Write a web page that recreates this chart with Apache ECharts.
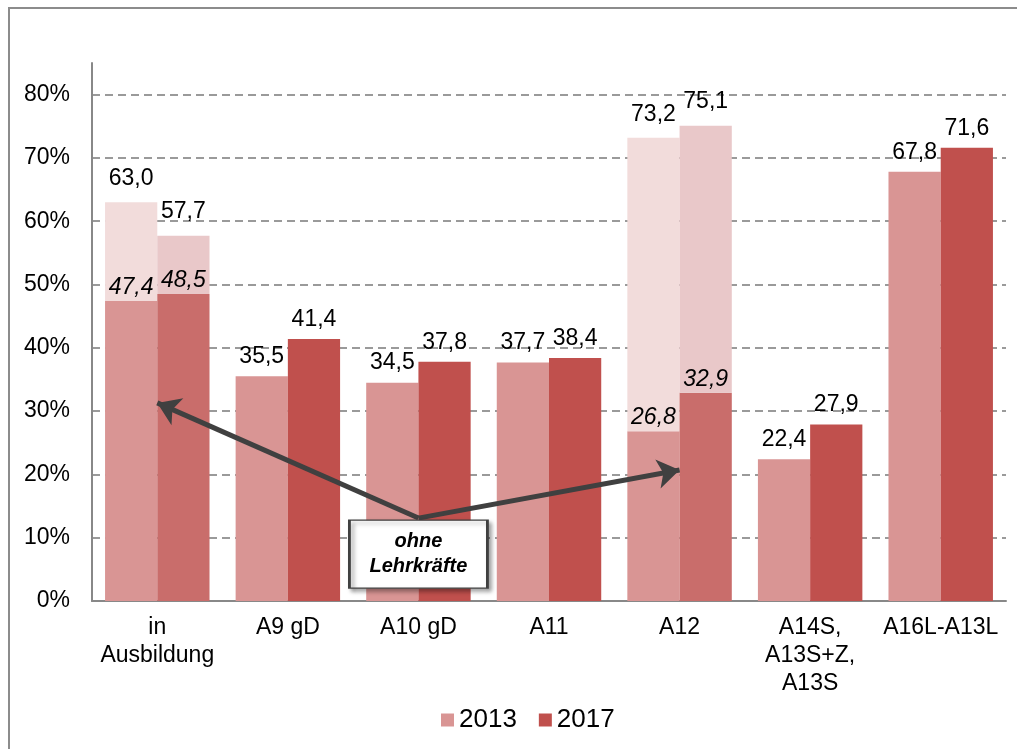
<!DOCTYPE html>
<html>
<head>
<meta charset="utf-8">
<script src="https://cdn.jsdelivr.net/npm/echarts@6/dist/echarts.min.js"></script>
<style>
  html, body { margin: 0; padding: 0; background: #fff; }
  #chart { width: 1017px; height: 749px; }
</style>
</head>
<body>
<div id="chart"></div>
<script>
const categories = ['in\nAusbildung', 'A9 gD', 'A10 gD', 'A11', 'A12', 'A14S,\nA13S+Z,\nA13S', 'A16L-A13L']
const total2013 = [63.0, 35.5, 34.5, 37.7, 73.2, 22.4, 67.8]
const total2017 = [57.7, 41.4, 37.8, 38.4, 75.1, 27.9, 71.6]
// share without teachers (only given for two groups)
const ohne2013 = [47.4, null, null, null, 26.8, null, null]
const ohne2017 = [48.5, null, null, null, 32.9, null, null]
const yTicks = [0, 10, 20, 30, 40, 50, 60, 70, 80]

const FONT = 'Liberation Sans, Arial, sans-serif'
const FS = 23
const C13 = '#d99594', C17 = '#c0504d'
const C13_TOP = '#f2dcdb', C17_TOP = '#e9c8c9', C17_LOW = '#c96d6b'
const fmt = (v) => v.toFixed(1).replace('.', ',')

function lower(total, ohne, lowColor) {
  return total.map((t, i) => {
    if (ohne[i] == null) return { value: t }
    return {
      value: ohne[i],
      itemStyle: { color: lowColor },
      label: { fontStyle: 'italic', distance: 2 },
    }
  })
}
function upper(total, ohne, topColor) {
  return total.map((t, i) => ohne[i] == null ? '-' : { value: t - ohne[i], itemStyle: { color: topColor } })
}

const chart = echarts.init(document.getElementById('chart'), null, { renderer: 'canvas' })
chart.setOption({
  animation: false,
  textStyle: { fontFamily: FONT, color: '#000' },
  graphic: [{
    type: 'rect', shape: { x: 9, y: 8, width: 1100, height: 800 },
    style: { fill: 'none', stroke: '#8c8c8c', lineWidth: 2 }, silent: true,
  }],
  grid: { left: 92, right: 11, top: 63, bottom: 148 },
  legend: {
    data: ['2013', '2017'], left: 436, top: 702, itemWidth: 13, itemHeight: 13, itemGap: 22,
    icon: 'rect', textStyle: { fontSize: 26, color: '#000', fontFamily: FONT },
  },
  xAxis: {
    type: 'category', data: categories,
    axisLine: { lineStyle: { color: '#888', width: 2 } },
    axisTick: { show: false },
    axisLabel: { color: '#000', fontSize: FS, lineHeight: 28, margin: 13, interval: 0, fontFamily: FONT },
  },
  yAxis: {
    type: 'value', min: yTicks[0], max: 85, interval: 10,
    axisLine: { show: true, lineStyle: { color: '#888', width: 2 } },
    axisTick: { show: false },
    axisLabel: { color: '#000', fontSize: FS, margin: 22, showMaxLabel: false, formatter: (v) => v + '%', fontFamily: FONT },
    splitLine: { showMaxLine: false, lineStyle: { color: '#9a9a9a', width: 2, type: [8, 5] } },
  },
  series: [
    {
      name: '2013', type: 'bar', stack: 'a', barGap: 0, barCategoryGap: '20%',
      itemStyle: { color: C13 },
      label: { show: true, position: 'top', distance: 8, fontSize: FS, color: '#000', formatter: (p) => fmt(p.value) },
      data: lower(total2013, ohne2013, C13),
    },
    {
      name: '2013 gesamt', type: 'bar', stack: 'a',
      label: { show: true, position: 'top', distance: 12, fontSize: FS, color: '#000', formatter: (p) => fmt(total2013[p.dataIndex]) },
      data: upper(total2013, ohne2013, C13_TOP),
    },
    {
      name: '2017', type: 'bar', stack: 'b',
      itemStyle: { color: C17 },
      label: { show: true, position: 'top', distance: 8, fontSize: FS, color: '#000', formatter: (p) => fmt(p.value) },
      data: lower(total2017, ohne2017, C17_LOW),
    },
    {
      name: '2017 gesamt', type: 'bar', stack: 'b',
      label: { show: true, position: 'top', distance: 13, fontSize: FS, color: '#000', formatter: (p) => fmt(total2017[p.dataIndex]) },
      data: upper(total2017, ohne2017, C17_TOP),
    },
    {
      // annotation: arrows + box "ohne Lehrkräfte"
      name: 'annot', type: 'scatter', data: [], silent: true,
      markLine: {
        z: 5, silent: true, animation: false,
        symbol: ['none', 'arrow'], symbolSize: 22,
        lineStyle: { color: '#404040', width: 5, type: 'solid' },
        label: { show: false },
        data: [
          [{ coord: [2, 13.1] }, { coord: [0, 31.3] }],
          [{ coord: [2, 13.1] }, { coord: [4, 20.7] }],
        ],
      },
      markPoint: {
        z: 6, silent: true, animation: false,
        symbol: 'rect', symbolSize: [138, 68],
        itemStyle: { color: '#fff', borderColor: '#404040', borderWidth: 2, shadowColor: 'rgba(0,0,0,0.35)', shadowBlur: 4, shadowOffsetX: 3, shadowOffsetY: 3 },
        label: { show: true, position: 'inside', formatter: 'ohne\nLehrkräfte', fontStyle: 'italic', fontWeight: 'bold', fontSize: 20, lineHeight: 25, color: '#000', fontFamily: FONT },
        data: [{ coord: [2, 7.4] }],
      },
    },
  ],
})
</script>
</body>
</html>
